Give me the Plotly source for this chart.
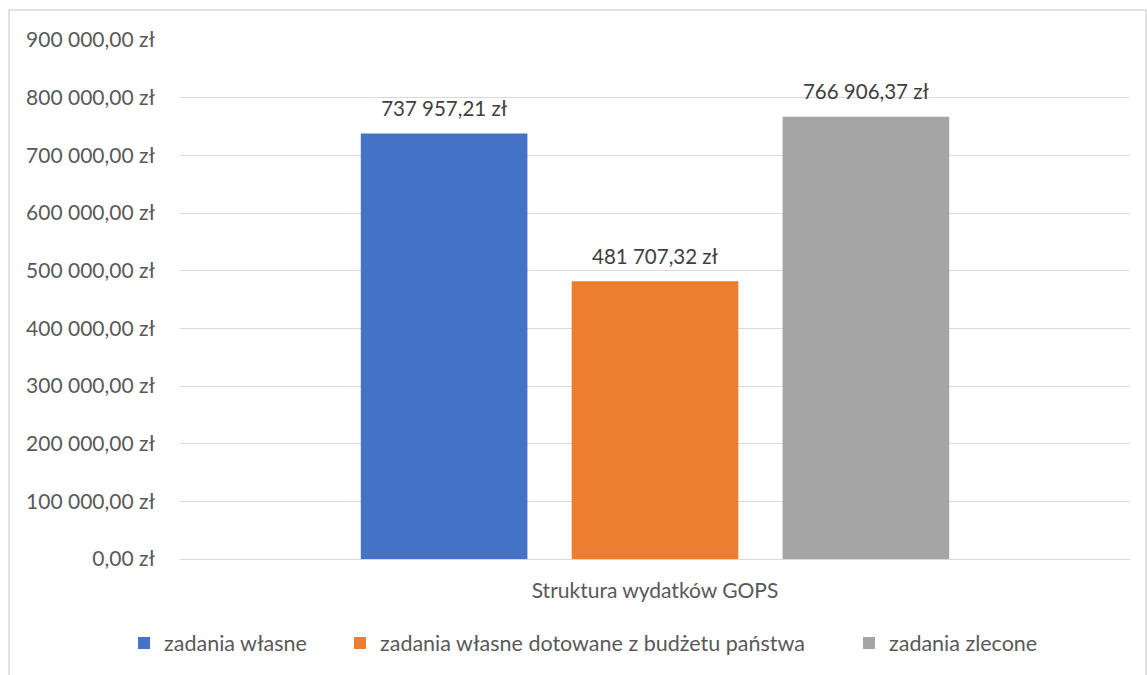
import plotly.graph_objects as go

# Data
category = ["Struktura wydatków GOPS"]
series_names = [
    "zadania własne",
    "zadania własne dotowane z budżetu państwa",
    "zadania zlecone",
]
series_values = [737957.21, 481707.32, 766906.37]
series_colors = ["#4472C4", "#ED7D31", "#A5A5A5"]

y_ticks = [0, 100000, 200000, 300000, 400000, 500000, 600000, 700000, 800000, 900000]


def pln(v):
    # "900 000,00 zł"
    s = f"{v:,.2f}".replace(",", " ").replace(".", ",")
    return s + " zł"


y_ticktext = [pln(v) for v in y_ticks]

FONT = "Lato, 'Open Sans', sans-serif"
TXT = "#595959"

# separate legend per series so spacing can follow the original
legend_ids = ["legend", "legend2", "legend3"]
legend_x = [-0.0589, 0.1684, 0.7042]

fig = go.Figure()

for i, (name, val, col) in enumerate(zip(series_names, series_values, series_colors)):
    fig.add_trace(go.Bar(
        x=category,
        y=[val],
        name=name,
        marker_color=col,
        marker_line_width=0,
        offsetgroup=str(i),
        legend=legend_ids[i],
        hoverinfo="skip",
    ))

# data labels, as grouped scatter text sitting on the bar tops
for i, val in enumerate(series_values):
    fig.add_trace(go.Scatter(
        x=category,
        y=[val],
        mode="markers+text",
        marker=dict(size=18, opacity=0),
        text=[pln(val)],
        textposition="top center",
        textfont=dict(size=20.5, color="#404040", family=FONT),
        offsetgroup=str(i),
        showlegend=False,
        hoverinfo="skip",
        cliponaxis=False,
    ))

# Chart border
fig.add_shape(type="rect", xref="paper", yref="paper",
              x0=-0.18, x1=1.0168, y0=-0.23, y1=1.0578,
              line=dict(color="#D9D9D9", width=1.5), layer="below")

legend_style = dict(
    orientation="h",
    y=-0.162, yanchor="middle",
    xanchor="left",
    font=dict(size=21.5, color=TXT, family=FONT),
    itemwidth=30,
    bgcolor="rgba(0,0,0,0)",
)

fig.update_layout(
    width=1147, height=675,
    margin=dict(l=180, r=17, t=40, b=116),
    paper_bgcolor="white",
    plot_bgcolor="white",
    barmode="group",
    bargap=0.334,
    bargroupgap=0.21,
    scattermode="group",
    scattergap=0.334,
    font=dict(family=FONT, size=20, color=TXT),
    showlegend=True,
    legend=dict(x=legend_x[0], **legend_style),
    legend2=dict(x=legend_x[1], **legend_style),
    legend3=dict(x=legend_x[2], **legend_style),
)

fig.update_yaxes(
    range=[0, 900000],
    tickmode="array",
    tickvals=y_ticks,
    ticktext=y_ticktext,
    showgrid=True,
    gridcolor="#D9D9D9",
    gridwidth=1,
    zeroline=True,
    zerolinecolor="#D9D9D9",
    zerolinewidth=1,
    showline=False,
    ticklabelstandoff=24,
    tickfont=dict(size=21, color=TXT, family=FONT),
)

fig.update_xaxes(
    showline=False,
    showgrid=False,
    ticks="",
    ticklabelstandoff=17,
    tickfont=dict(size=21, color=TXT, family=FONT),
)

fig.write_html("out.html", config={"displayModeBar": False},
               post_script="document.body.style.margin='0';")
